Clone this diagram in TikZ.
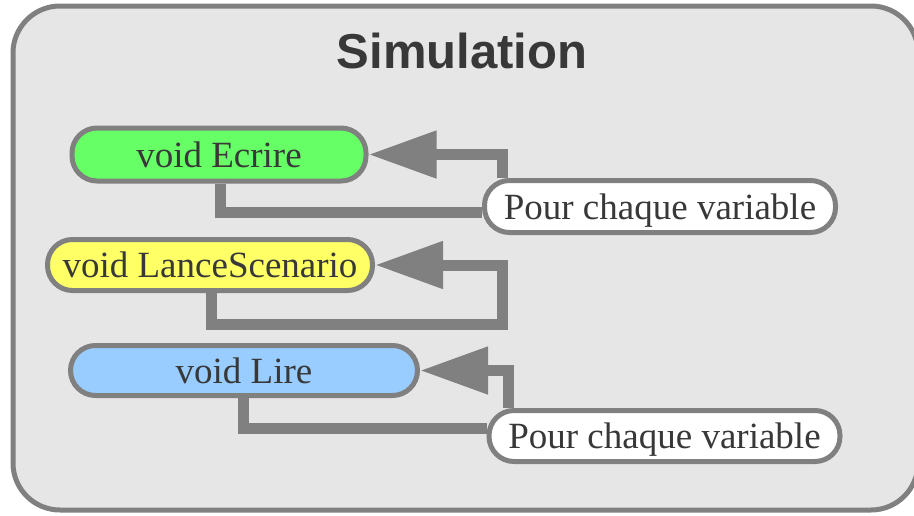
\documentclass[tikz,border=0pt]{standalone}
\usepackage{fontspec}
\setmainfont{Liberation Serif}
\setsansfont{Liberation Sans}
\usetikzlibrary{arrows.meta}
\definecolor{frame}{HTML}{808080}
\definecolor{back}{HTML}{E6E6E6}
\definecolor{ink}{HTML}{383838}
\definecolor{green}{HTML}{66FF66}
\definecolor{yellow}{HTML}{FFFF66}
\definecolor{blue}{HTML}{99CCFF}
\begin{document}
\begin{tikzpicture}[x=1pt,y=-1pt,
  meth/.style={draw=frame,line width=5pt,rounded corners=25pt,minimum height=51pt,
    inner sep=0pt,text height=25.3pt,text depth=0pt,text=ink,font=\fontsize{37}{40}\selectfont},
  link/.style={draw=frame,line width=11pt},
  tip/.style={-{Triangle[length=68pt,width=45pt]}}]
\useasboundingbox (0,0) rectangle (914,515);
\draw[frame,fill=back,line width=5pt,rounded corners=47pt] (13,6) rectangle (918,510);
\node[anchor=base,text=ink,font=\sffamily\bfseries\fontsize{49}{52}\selectfont] (title) at (462,68) {Simulation};

\node[meth,fill=green,minimum width=294pt,minimum height=53pt] (ecrire) at (219,154.5) {void Ecrire};
\node[meth,fill=yellow,minimum width=325pt] (lance) at (210,265) {void LanceScenario};
\node[meth,fill=blue,minimum width=347pt,minimum height=50pt] (lire) at (244,370.5) {void Lire};
\node[meth,fill=white,minimum width=351pt,minimum height=52pt] (var1) at (660,206.5) {Pour chaque variable};
\node[meth,fill=white,minimum width=351pt] (var2) at (664.5,436) {Pour chaque variable};

\draw[link] ([xshift=1pt]ecrire.south) |- ([yshift=-5.5pt]var1.west);
\draw[link,tip] ([xshift=20.5pt]var1.north west) |- (ecrire.east);

\coordinate (turn) at (502.5,324);
\draw[link,tip] ([xshift=1pt]lance.south) |- (turn) |- (lance.east);

\draw[link] ([xshift=-1pt]lire.south) |- ([yshift=8pt]var2.west);
\draw[link,tip] ([xshift=21.5pt]var2.north west) |- (lire.east);
\end{tikzpicture}
\end{document}
